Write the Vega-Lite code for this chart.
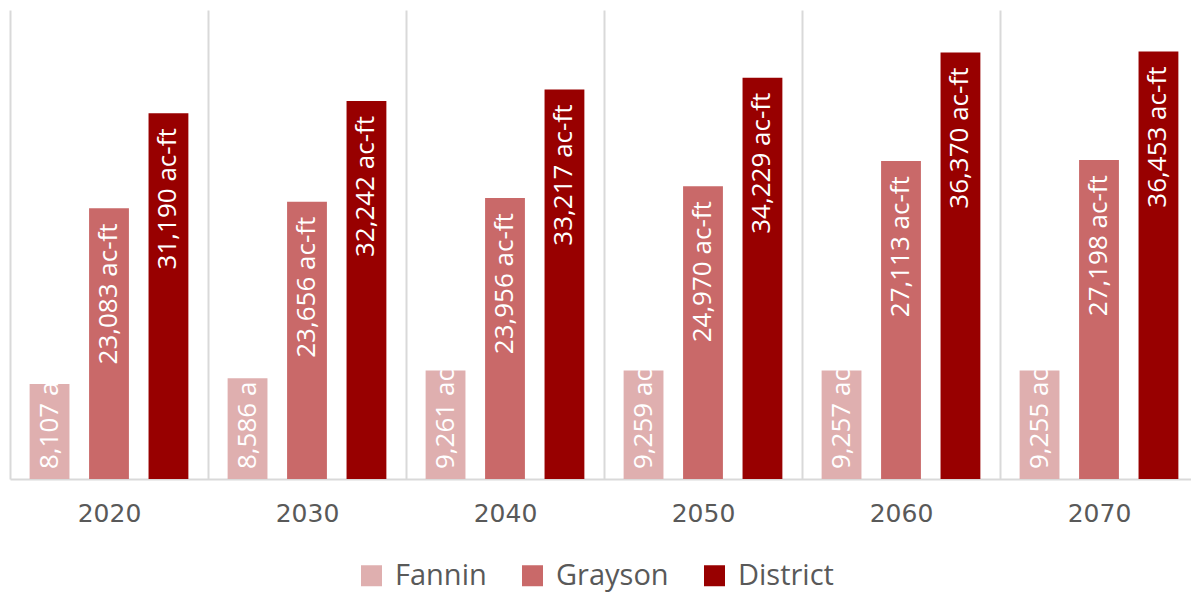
{
  "$schema": "https://vega.github.io/schema/vega-lite/v6.json",
  "width": 1188,
  "height": 469,
  "autosize": {"type": "none"},
  "padding": {"left": 10, "top": 10, "right": 0, "bottom": 117},
  "background": "white",
  "config": {"view": {"stroke": null}, "font": "Open Sans"},
  "data": {
    "values": [
      {"year": "2020", "series": "Fannin", "value": 8107, "label": "8,107 ac-ft"},
      {"year": "2020", "series": "Grayson", "value": 23083, "label": "23,083 ac-ft"},
      {"year": "2020", "series": "District", "value": 31190, "label": "31,190 ac-ft"},
      {"year": "2030", "series": "Fannin", "value": 8586, "label": "8,586 ac-ft"},
      {"year": "2030", "series": "Grayson", "value": 23656, "label": "23,656 ac-ft"},
      {"year": "2030", "series": "District", "value": 32242, "label": "32,242 ac-ft"},
      {"year": "2040", "series": "Fannin", "value": 9261, "label": "9,261 ac-ft"},
      {"year": "2040", "series": "Grayson", "value": 23956, "label": "23,956 ac-ft"},
      {"year": "2040", "series": "District", "value": 33217, "label": "33,217 ac-ft"},
      {"year": "2050", "series": "Fannin", "value": 9259, "label": "9,259 ac-ft"},
      {"year": "2050", "series": "Grayson", "value": 24970, "label": "24,970 ac-ft"},
      {"year": "2050", "series": "District", "value": 34229, "label": "34,229 ac-ft"},
      {"year": "2060", "series": "Fannin", "value": 9257, "label": "9,257 ac-ft"},
      {"year": "2060", "series": "Grayson", "value": 27113, "label": "27,113 ac-ft"},
      {"year": "2060", "series": "District", "value": 36370, "label": "36,370 ac-ft"},
      {"year": "2070", "series": "Fannin", "value": 9255, "label": "9,255 ac-ft"},
      {"year": "2070", "series": "Grayson", "value": 27198, "label": "27,198 ac-ft"},
      {"year": "2070", "series": "District", "value": 36453, "label": "36,453 ac-ft"}
    ]
  },
  "encoding": {
    "x": {
      "field": "year",
      "type": "nominal",
      "scale": {"paddingInner": 0, "paddingOuter": 0},
      "axis": {
        "title": null,
        "labelAngle": 0,
        "grid": true,
        "tickBand": "extent",
        "ticks": false,
        "gridColor": "#d9d9d9",
        "gridWidth": 2,
        "domainColor": "#d9d9d9",
        "domainWidth": 2,
        "labelFont": "DejaVu Sans",
        "labelFontSize": 25,
        "labelColor": "#595959",
        "labelPadding": 22
      }
    },
    "xOffset": {
      "field": "series",
      "type": "nominal",
      "sort": ["Fannin", "Grayson", "District"],
      "scale": {"paddingInner": 0.33, "paddingOuter": 0.33}
    },
    "y": {
      "field": "value",
      "type": "quantitative",
      "scale": {"domain": [0, 40000]},
      "axis": null
    }
  },
  "layer": [
    {
      "mark": {"type": "bar"},
      "encoding": {
        "color": {
          "field": "series",
          "type": "nominal",
          "scale": {"domain": ["Fannin", "Grayson", "District"], "range": ["#DFAFAF", "#C96969", "#980000"]},
          "legend": {
            "title": null,
            "orient": "none",
            "legendX": 347,
            "legendY": 551,
            "direction": "horizontal",
            "symbolType": "square",
            "symbolSize": 441,
            "symbolStrokeWidth": 0,
            "symbolOpacity": 1,
            "labelFont": "Open Sans",
            "labelFontSize": 29,
            "labelColor": "#595959",
            "labelOffset": 9,
            "labelLimit": 400,
            "columnPadding": 31
          }
        }
      }
    },
    {
      "transform": [{"filter": "datum.series !== 'Fannin'"}],
      "mark": {"type": "text", "angle": 270, "align": "right", "baseline": "middle", "dx": -15, "color": "white", "fontSize": 26, "font": "Open Sans"},
      "encoding": {"text": {"field": "label"}}
    },
    {
      "transform": [{"filter": "datum.series === 'Fannin'"}],
      "mark": {
        "type": "text",
        "angle": 270,
        "align": "left",
        "baseline": "middle",
        "dx": 10,
        "color": "white",
        "fontSize": 26,
        "font": "Open Sans",
        "ellipsis": "\u200b",
        "limit": {"expr": "scale('y', 0) - scale('y', datum.value) - 4"}
      },
      "encoding": {"text": {"field": "label"}, "y": {"datum": 0}}
    }
  ]
}
